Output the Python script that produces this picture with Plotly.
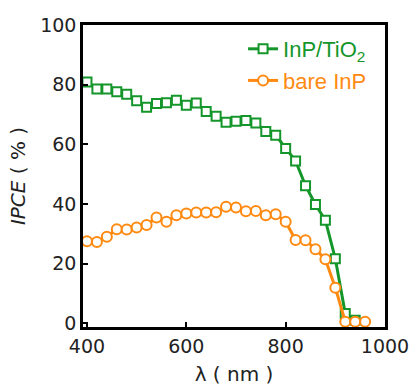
import plotly.graph_objects as go

wl_tio2 = [400, 420, 440, 460, 480, 500, 520, 540, 560, 580, 600, 620, 640, 660, 680, 700,
           720, 740, 760, 780, 800, 820, 840, 860, 880, 900, 920, 940]
ipce_tio2 = [80.9, 78.5, 78.5, 77.6, 76.8, 74.6, 72.4, 73.7, 73.9, 74.8, 73.1, 73.8, 71.0, 69.4,
             67.4, 67.7, 68.0, 67.1, 64.3, 63.0, 58.6, 54.4, 46.1, 39.8, 34.5, 21.6, 3.2, 1.0]

wl_bare = [400, 420, 440, 460, 480, 500, 520, 540, 560, 580, 600, 620, 640, 660, 680, 700,
           720, 740, 760, 780, 800, 820, 840, 860, 880, 900, 920, 940, 960]
ipce_bare = [27.5, 27.2, 29.0, 31.5, 31.4, 32.1, 32.9, 35.4, 34.0, 36.2, 36.8, 37.1, 37.1, 37.2,
             39.0, 38.8, 37.5, 37.6, 36.2, 36.5, 34.0, 27.9, 27.8, 24.8, 21.4, 11.9, 0.5, 0.5, 0.5]

x_ticks = [400, 600, 800, 1000]
y_ticks = [0, 20, 40, 60, 80, 100]

GREEN = "#14962a"
ORANGE = "#ff8a12"

fig = go.Figure()
fig.add_trace(go.Scatter(
    x=wl_tio2, y=ipce_tio2, mode="lines+markers",
    name="<span style='color:%s'>InP/TiO<sub>2</sub></span>" % GREEN,
    line=dict(color=GREEN, width=3),
    marker=dict(symbol="square", size=9, color="white", line=dict(color=GREEN, width=2)),
))
fig.add_trace(go.Scatter(
    x=wl_bare, y=ipce_bare, mode="lines+markers",
    name="<span style='color:%s'>bare InP</span>" % ORANGE,
    line=dict(color=ORANGE, width=3),
    marker=dict(symbol="circle", size=10, color="white", line=dict(color=ORANGE, width=2)),
))

fig.update_layout(
    width=413, height=392,
    margin=dict(l=83, r=28, t=25, b=65),
    paper_bgcolor="white", plot_bgcolor="white",
    font=dict(family="DejaVu Sans", size=19, color="#222"),
    showlegend=True,
    legend=dict(x=0.53, y=0.99, xanchor="left", yanchor="top",
                font=dict(family="Liberation Sans", size=22),
                bgcolor="rgba(0,0,0,0)", tracegroupgap=0, itemwidth=30),
    xaxis=dict(range=[392, 1000], tickvals=x_ticks, showgrid=False, zeroline=False,
               automargin=False,
               showline=True, linecolor="black", linewidth=2.5, mirror=True,
               ticks="inside", ticklen=5, tickwidth=2, tickcolor="black",
               title=dict(text="λ ( nm )", standoff=12, font=dict(size=20))),
    yaxis=dict(range=[-1.3, 100], tickvals=y_ticks, showgrid=False, zeroline=False,
               automargin=False,
               showline=True, linecolor="black", linewidth=2.5, mirror=True,
               ticks="inside", ticklen=5, tickwidth=2, tickcolor="black",
               title=dict(text="<i>IPCE</i> ( % )", standoff=10, font=dict(size=20))),
)

fig.write_html("out.html", config={"displayModeBar": False},
               post_script="document.body.style.margin='0px';")
